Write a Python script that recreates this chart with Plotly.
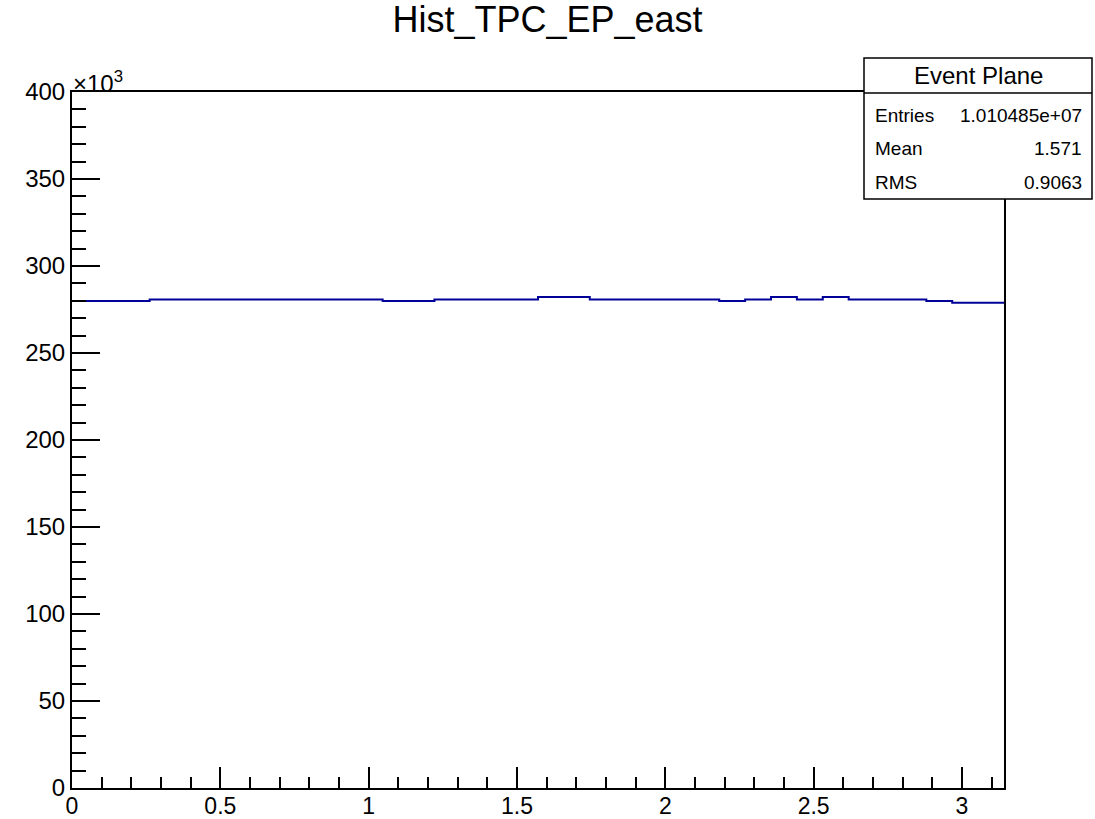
import numpy as np
import plotly.graph_objects as go

title = "Hist_TPC_EP_east"
n_bins = 36
x_min, x_max = 0.0, np.pi
# bin contents (counts)
counts = [
    279900, 279900, 279900,
    280800, 280800, 280800, 280800, 280800, 280800, 280800, 280800, 280800,
    279900, 279900,
    280800, 280800, 280800, 280800,
    282200, 282200,
    280800, 280800, 280800, 280800, 280800,
    279900, 280800, 282200, 280800, 282200,
    280800, 280800, 280800,
    279900, 278900, 278900,
]
stats_title = "Event Plane"
stats_names = ["Entries", "Mean", "RMS"]
stats_values = ["1.010485e+07", "1.571", "0.9063"]
y_ticks = [0, 50, 100, 150, 200, 250, 300, 350, 400]
x_ticks = [0, 0.5, 1, 1.5, 2, 2.5, 3]

edges = np.linspace(x_min, x_max, n_bins + 1)
yk = np.array(counts) / 1000.0
xs = list(edges)
ys = list(yk) + [yk[-1]]

FONT = "Liberation Sans, Arial, sans-serif"

fig = go.Figure()
fig.add_trace(go.Scatter(x=xs, y=ys, mode="lines", line_shape="hv",
                         line=dict(color="#000099", width=2), hoverinfo="skip",
                         showlegend=False))

W, H = 1095, 819
L, R, T, B = 72, 91, 92, 31
fig.update_layout(
    width=W, height=H,
    margin=dict(l=L, r=R, t=T, b=B, autoexpand=False),
    paper_bgcolor="white", plot_bgcolor="white",
    font=dict(family=FONT, color="black", size=23),
    title=dict(text=title, x=0.5, xanchor="center", y=1 - 19 / H, yanchor="middle",
               font=dict(size=36, family=FONT, color="black")),
    showlegend=False,
)
fig.update_xaxes(
    range=[x_min, x_max], tickvals=x_ticks, ticktext=[("%g" % v) for v in x_ticks],
    ticks="inside", ticklen=21, tickwidth=1.5, tickcolor="black",
    showline=True, linecolor="black", linewidth=2, mirror=True,
    showgrid=False, zeroline=False, automargin=False, ticklabelstandoff=-4,
    minor=dict(ticks="inside", ticklen=11, dtick=0.1, tick0=0, tickwidth=1.5,
               tickcolor="black", showgrid=False),
    tickfont=dict(size=23, family=FONT),
)
fig.update_yaxes(
    range=[0, 400], tickvals=y_ticks, ticktext=[str(v) for v in y_ticks],
    ticks="inside", ticklen=28, tickwidth=1.5, tickcolor="black",
    showline=True, linecolor="black", linewidth=2, mirror=True,
    showgrid=False, zeroline=False, automargin=False,
    minor=dict(ticks="inside", ticklen=14, dtick=10, tick0=0, tickwidth=1.5,
               tickcolor="black", showgrid=False),
    tickfont=dict(size=24, family=FONT),
)

# exponent label
fig.add_annotation(x=0, y=1.0, xref="paper", yref="paper", xanchor="left",
                   yanchor="bottom", text="×10<sup>3</sup>", showarrow=False,
                   font=dict(size=24, family=FONT), xshift=-1, yshift=-7)

# stats box
pw = W - L - R
ph = H - T - B
def px(x):
    return (x - L) / pw
def py(y):
    return (H - B - y) / ph

bx0, bx1, by0, by1, bhead = 864, 1092, 58, 199, 93
fig.add_shape(type="rect", xref="paper", yref="paper",
              x0=px(bx0), x1=px(bx1), y0=py(by1), y1=py(by0),
              line=dict(color="black", width=1.5), fillcolor="white", layer="above")
fig.add_shape(type="line", xref="paper", yref="paper",
              x0=px(bx0), x1=px(bx1), y0=py(bhead), y1=py(bhead),
              line=dict(color="black", width=1.5), layer="above")
fig.add_annotation(x=px((bx0 + bx1) / 2), y=py((by0 + bhead) / 2), xref="paper",
                   yref="paper", text=stats_title, showarrow=False,
                   xanchor="center", yanchor="middle",
                   font=dict(size=24, family=FONT))
row_y = [115, 148, 182]
for name, val, ry in zip(stats_names, stats_values, row_y):
    fig.add_annotation(x=px(873), y=py(ry), xref="paper", yref="paper", text=name,
                       showarrow=False, xanchor="left", yanchor="middle",
                       font=dict(size=19, family=FONT))
    fig.add_annotation(x=px(1084), y=py(ry), xref="paper", yref="paper", text=val,
                       showarrow=False, xanchor="right", yanchor="middle",
                       font=dict(size=19, family=FONT))

fig.write_html("out.html", config={"displayModeBar": False},
               post_script="document.body.style.margin='0';document.body.style.padding='0';")
